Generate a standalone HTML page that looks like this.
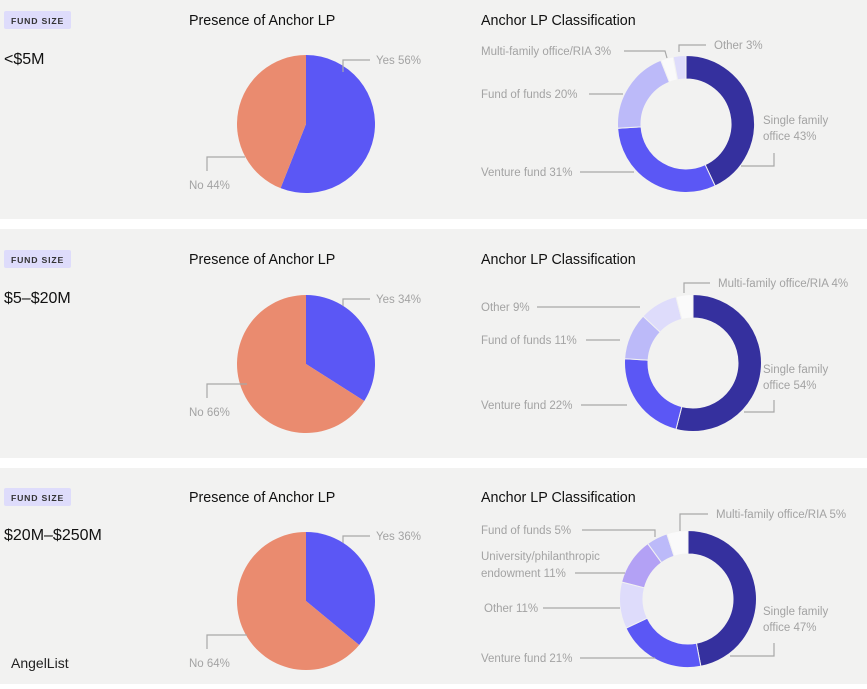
<!DOCTYPE html>
<html><head><meta charset="utf-8"><style>
html,body{margin:0;padding:0;background:#fff;}
body{width:867px;height:684px;overflow:hidden;font-family:"Liberation Sans",sans-serif;}
svg text{font-family:"Liberation Sans",sans-serif;}
</style></head><body>
<svg id="c" width="867" height="684" xmlns="http://www.w3.org/2000/svg">
<rect x="0" y="0" width="867" height="219" fill="#f2f2f1"/>
<rect x="0" y="229" width="867" height="229" fill="#f2f2f1"/>
<rect x="0" y="468" width="867" height="216" fill="#f2f2f1"/>
<g id="marks"></g>
<text x="11" y="668" font-size="14" fill="#222">AngelList</text>
</svg>
<script>
const fundSizes = ["<$5M", "$5–$20M", "$20M–$250M"];
const yesValues = [56, 34, 36];
const noValues = [44, 66, 64];
const donut1Labels = ["Single family office 43%","Venture fund 31%","Fund of funds 20%","Multi-family office/RIA 3%","Other 3%"];
const donut1Values = [43, 31, 20, 3, 3];
const donut2Labels = ["Single family office 54%","Venture fund 22%","Fund of funds 11%","Other 9%","Multi-family office/RIA 4%"];
const donut2Values = [54, 22, 11, 9, 4];
const donut3Labels = ["Single family office 47%","Venture fund 21%","Other 11%","University/philanthropic endowment 11%","Fund of funds 5%","Multi-family office/RIA 5%"];
const donut3Values = [47, 21, 11, 11, 5, 5];

const NS = "http://www.w3.org/2000/svg";
const g = document.getElementById("marks");
const colorMap = {"Single family":"#35309e","Venture fund":"#5b57f5","Fund of funds":"#bcbaf9","Multi-family":"#fafafa","Other":"#dedcfb","University":"#b3a1f5"};
function colFor(l){for(const k in colorMap){if(l.startsWith(k))return colorMap[k];}return "#ccc";}
function mk(tag, attrs){const e=document.createElementNS(NS,tag);for(const k in attrs)e.setAttribute(k,attrs[k]);g.appendChild(e);return e;}
function pt(cx,cy,r,a){return [cx+r*Math.sin(a), cy-r*Math.cos(a)];}
function arcPath(cx,cy,r,ri,a0,a1){
  const large=(a1-a0)>Math.PI?1:0;
  const [x0,y0]=pt(cx,cy,r,a0),[x1,y1]=pt(cx,cy,r,a1);
  if(ri<=0) return `M${cx},${cy}L${x0},${y0}A${r},${r} 0 ${large} 1 ${x1},${y1}Z`;
  const [x2,y2]=pt(cx,cy,ri,a1),[x3,y3]=pt(cx,cy,ri,a0);
  return `M${x0},${y0}A${r},${r} 0 ${large} 1 ${x1},${y1}L${x2},${y2}A${ri},${ri} 0 ${large} 0 ${x3},${y3}Z`;
}
function txt(x,y,s,size,fill,name){
  const t=mk("text",{x:x,y:y,"font-size":size,fill:fill});t.textContent=s;
  
  
  return t;
}
function line(pts,name){
  const p=mk("polyline",{points:pts.map(q=>q.join(",")).join(" "),fill:"none",stroke:"#a8a8a8","stroke-width":1.2});
  
  
}
const panelTops=[0,239,477];
const pieCY=[124,364,601];
const donutC=[[686,124],[693,363],[688,599]];
const donutVals=[donut1Values,donut2Values,donut3Values];
const donutLabs=[donut1Labels,donut2Labels,donut3Labels];

for(let i=0;i<3;i++){
  const t=panelTops[i];
  const b=mk("rect",{x:4,y:t+11,width:67,height:18,rx:2,fill:"#dedcfb"});
  
  
  const bt=txt(11,t+24,"FUND SIZE",8.7,"#333","fund-size-badge-text");
  bt.setAttribute("font-weight","bold");bt.setAttribute("letter-spacing","0.8");
  txt(4,t+(i==0?64:i==1?64:63),fundSizes[i],16,"#111","fund-size-value");
  txt(189,t+25,"Presence of Anchor LP",14.3,"#111","pie-title");
  txt(481,t+25,"Anchor LP Classification",14.3,"#111","donut-title");
  const cx=306,cy=pieCY[i],r=69,tot=yesValues[i]+noValues[i];
  const ay=2*Math.PI*yesValues[i]/tot;
  const p1=mk("path",{d:arcPath(cx,cy,r,0,0,ay),fill:"#5b57f5"});
  
  
  const p2=mk("path",{d:arcPath(cx,cy,r,0,ay,2*Math.PI),fill:"#ea8b6f"});
  
  
  const [dx,dy]=donutC[i];const vals=donutVals[i],labs=donutLabs[i];
  const s=vals.reduce((a,b)=>a+b,0);let a=0;
  vals.forEach((v,j)=>{
    const a1=a+2*Math.PI*v/s;
    const seg=mk("path",{d:arcPath(dx,dy,68.5,45,a,a1),fill:colFor(labs[j]),stroke:"#f2f2f1","stroke-width":1});
    
    
    a=a1;
  });
}
const G="#a3a3a3", FS=11.5;
txt(376,64,"Yes "+yesValues[0]+"%",FS,G,"pie-label-yes");line([[343,72],[343,60],[370,60]],"leader");
txt(189,189,"No "+noValues[0]+"%",FS,G,"pie-label-no");line([[207,171],[207,157],[245,157]],"leader");
txt(376,303,"Yes "+yesValues[1]+"%",FS,G,"pie-label-yes");line([[343,306],[343,299],[370,299]],"leader");
txt(189,416,"No "+noValues[1]+"%",FS,G,"pie-label-no");line([[207,398],[207,384],[247,384]],"leader");
txt(376,540,"Yes "+yesValues[2]+"%",FS,G,"pie-label-yes");line([[343,543],[343,536],[370,536]],"leader");
txt(189,667,"No "+noValues[2]+"%",FS,G,"pie-label-no");line([[207,649],[207,635],[247,635]],"leader");
txt(763,124,"Single family",FS,G,"donut-label");txt(763,140,donut1Labels[0].replace("Single family ",""),FS,G,"donut-label");
line([[774,153],[774,166],[741,166]],"leader");
txt(481,176,donut1Labels[1],FS,G,"donut-label");line([[580,172],[634,172]],"leader");
txt(481,98,donut1Labels[2],FS,G,"donut-label");line([[589,94],[623,94]],"leader");
txt(481,55,donut1Labels[3],FS,G,"donut-label");line([[624,51],[665,51],[667,58]],"leader");
txt(714,49,donut1Labels[4],FS,G,"donut-label");line([[706,45],[679,45],[679,52]],"leader");
txt(763,373,"Single family",FS,G,"donut-label");txt(763,389,donut2Labels[0].replace("Single family ",""),FS,G,"donut-label");
line([[774,400],[774,412],[744,412]],"leader");
txt(481,409,donut2Labels[1],FS,G,"donut-label");line([[581,405],[627,405]],"leader");
txt(481,344,donut2Labels[2],FS,G,"donut-label");line([[586,340],[620,340]],"leader");
txt(481,311,donut2Labels[3],FS,G,"donut-label");line([[537,307],[640,307]],"leader");
txt(718,287,donut2Labels[4],FS,G,"donut-label");line([[710,283],[684,283],[684,293]],"leader");
txt(763,615,"Single family",FS,G,"donut-label");txt(763,631,donut3Labels[0].replace("Single family ",""),FS,G,"donut-label");
line([[774,643],[774,656],[730,656]],"leader");
txt(481,662,donut3Labels[1],FS,G,"donut-label");line([[580,658],[655,658]],"leader");
txt(484,612,donut3Labels[2],FS,G,"donut-label");line([[543,608],[620,608]],"leader");
txt(481,560,"University/philanthropic",FS,G,"donut-label");txt(481,577,donut3Labels[3].replace("University/philanthropic ",""),FS,G,"donut-label");
line([[575,573],[625,573]],"leader");
txt(481,534,donut3Labels[4],FS,G,"donut-label");line([[582,530],[655,530],[655,537]],"leader");
txt(716,518,donut3Labels[5],FS,G,"donut-label");line([[708,514],[680,514],[680,531]],"leader");
</script>
</body></html>
